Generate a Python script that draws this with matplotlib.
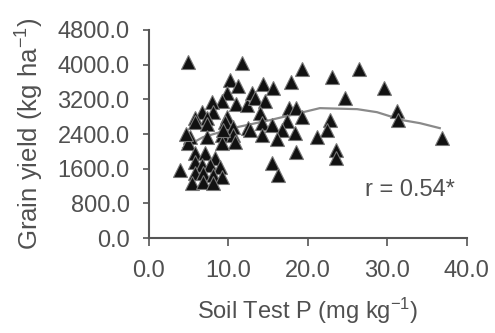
import matplotlib
matplotlib.use("Agg")
import matplotlib.pyplot as plt
import numpy as np

plt.rcParams['font.family'] = ['Liberation Sans', 'DejaVu Sans']
plt.rcParams['mathtext.fontset'] = 'custom'
plt.rcParams['mathtext.rm'] = 'Liberation Sans'
plt.rcParams['mathtext.it'] = 'Liberation Sans'

# Scatter data: soil test P (mg/kg) vs grain yield (kg/ha)
soil_p = [4.9, 11.7, 10.2, 11.2, 9.8, 9.2, 10.9, 12.3, 13.0, 7.9,
          6.7, 8.1, 5.8, 7.3, 9.8, 19.2, 23.0, 26.4, 14.3, 15.6,
          17.9, 13.3, 14.6, 24.7, 17.6, 18.5, 14.0, 19.2, 22.8, 17.4,
          29.6, 31.2, 31.4, 36.9, 22.4, 21.1, 23.5, 23.5, 14.2, 15.5,
          14.2, 16.7, 18.4, 16.1, 18.5, 15.5, 16.2, 5.8, 7.3, 9.6,
          10.6, 12.5, 5.2, 7.3, 9.2, 10.6, 9.2, 10.8, 4.9, 5.8,
          7.0, 8.3, 3.9, 5.8, 6.7, 7.7, 8.9, 5.8, 6.8, 8.1,
          9.2, 5.4, 6.8, 8.1, 12.7, 9.3, 4.6]
grain_yield = [4057, 4034, 3642, 3504, 3342, 3158, 3089, 3066, 3342, 3135,
               2904, 2904, 2766, 2766, 2789, 3895, 3711, 3895, 3550, 3458,
               3596, 3227, 3158, 3227, 2997, 2997, 2881, 2789, 2720, 2697,
               3458, 2927, 2720, 2305, 2489, 2328, 2028, 1844, 2651, 2605,
               2374, 2489, 2420, 2282, 1982, 1729, 1452, 2674, 2628, 2674,
               2559, 2536, 2328, 2328, 2374, 2374, 2190, 2213, 2190, 1959,
               1959, 1844, 1567, 1752, 1683, 1683, 1637, 1498, 1498, 1452,
               1406, 1268, 1291, 1268, 2489, 2489, 2400]

# Fitted response curve
curve_x = [4.3, 6.8, 11.1, 15.2, 19.4, 21.5, 26.2, 28.7, 31.9, 34.1, 36.6]
curve_y = [2075, 2328, 2559, 2720, 2904, 2997, 2974, 2904, 2720, 2651, 2536]

x_ticks = [0.0, 10.0, 20.0, 30.0, 40.0]
y_ticks = [0.0, 800.0, 1600.0, 2400.0, 3200.0, 4000.0, 4800.0]
annotation = "r = 0.54*"

txt_col = '#505050'
fig = plt.figure(figsize=(4.95, 3.33), dpi=100)
ax = fig.add_axes([0.301, 0.285, 0.642, 0.625])

ax.plot(curve_x, curve_y, color='#8a8a8a', lw=1.6, zorder=2)
ax.plot(soil_p, grain_yield, linestyle='none', marker='^', markersize=9.5,
        markerfacecolor='#111111', markeredgecolor='#777777', markeredgewidth=0.8,
        zorder=3)

ax.set_xlim(0, 40)
ax.set_ylim(0, 4800)
ax.set_xticks(x_ticks)
ax.set_yticks(y_ticks)
ax.set_xticklabels([f"{v:.1f}" for v in x_ticks])
ax.set_yticklabels([f"{v:.1f}" for v in y_ticks])

for s in ['top', 'right']:
    ax.spines[s].set_visible(False)
for s in ['left', 'bottom']:
    ax.spines[s].set_color('#555555')
    ax.spines[s].set_linewidth(1.5)

ax.tick_params(axis='x', direction='out', length=6, width=1.2, color='#555555',
               labelsize=17, labelcolor=txt_col, pad=10)
ax.tick_params(axis='y', direction='out', length=4, width=1.2, color='#555555',
               labelsize=17, labelcolor=txt_col, pad=10)

ax.set_xlabel(r"Soil Test P (mg kg$^{-1}$)", fontsize=17, color=txt_col, labelpad=10)
ax.set_ylabel(r"Grain yield (kg ha$^{-1}$)", fontsize=18.5, color=txt_col, labelpad=8)

ax.text(32.8, 1106, annotation, fontsize=17, color=txt_col, ha='center', va='center')

fig.savefig("out.png", dpi=100)
